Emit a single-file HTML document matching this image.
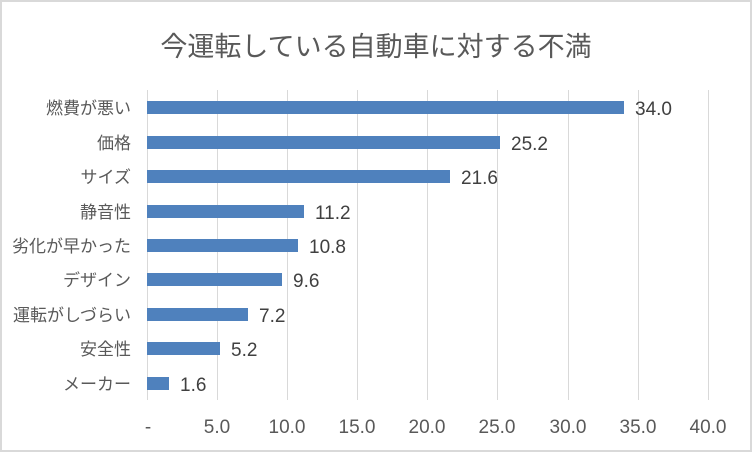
<!DOCTYPE html>
<html><head><meta charset="utf-8"><style>
html,body{margin:0;padding:0;background:#fff;}
svg{display:block;font-family:"Liberation Sans","Noto Sans CJK JP",sans-serif;}
</style></head><body>
<svg width="752" height="452" viewBox="0 0 752 452" xmlns="http://www.w3.org/2000/svg">
<rect x="1" y="1" width="750" height="450" fill="#fff" stroke="#d9d9d9" stroke-width="2"/>
<text x="376" y="56" font-size="27" fill="#595959" text-anchor="middle">今運転している自動車に対する不満</text>
<g stroke="#d9d9d9" stroke-width="1">
<line x1="147.5" y1="90" x2="147.5" y2="400"/>
<line x1="217.5" y1="90" x2="217.5" y2="400"/>
<line x1="287.5" y1="90" x2="287.5" y2="400"/>
<line x1="357.5" y1="90" x2="357.5" y2="400"/>
<line x1="427.5" y1="90" x2="427.5" y2="400"/>
<line x1="497.5" y1="90" x2="497.5" y2="400"/>
<line x1="568.5" y1="90" x2="568.5" y2="400"/>
<line x1="638.5" y1="90" x2="638.5" y2="400"/>
<line x1="708.5" y1="90" x2="708.5" y2="400"/>
</g>
<g fill="#4f81bd">
<rect x="147" y="101" width="477" height="13"/>
<rect x="147" y="136" width="353" height="13"/>
<rect x="147" y="170" width="303" height="13"/>
<rect x="147" y="205" width="157" height="13"/>
<rect x="147" y="239" width="151" height="13"/>
<rect x="147" y="273" width="135" height="13"/>
<rect x="147" y="308" width="101" height="13"/>
<rect x="147" y="342" width="73" height="13"/>
<rect x="147" y="377" width="22" height="13"/>
</g>
<g font-size="19" fill="#404040">
<text x="635" y="115">34.0</text>
<text x="511" y="150">25.2</text>
<text x="461" y="184">21.6</text>
<text x="315" y="219">11.2</text>
<text x="309" y="253">10.8</text>
<text x="293" y="287">9.6</text>
<text x="259" y="322">7.2</text>
<text x="231" y="356">5.2</text>
<text x="180" y="391">1.6</text>
</g>
<g font-size="17" fill="#595959" text-anchor="end">
<text x="131" y="114">燃費が悪い</text>
<text x="131" y="149">価格</text>
<text x="131" y="183">サイズ</text>
<text x="131" y="218">静音性</text>
<text x="131" y="252">劣化が早かった</text>
<text x="131" y="286">デザイン</text>
<text x="131" y="321">運転がしづらい</text>
<text x="131" y="355">安全性</text>
<text x="131" y="390">メーカー</text>
</g>
<g font-size="19" fill="#595959" text-anchor="middle">
<text x="148" y="433">-</text>
<text x="217" y="433">5.0</text>
<text x="287" y="433">10.0</text>
<text x="357" y="433">15.0</text>
<text x="427" y="433">20.0</text>
<text x="497" y="433">25.0</text>
<text x="568" y="433">30.0</text>
<text x="638" y="433">35.0</text>
<text x="708" y="433">40.0</text>
</g>
</svg>
</body></html>
